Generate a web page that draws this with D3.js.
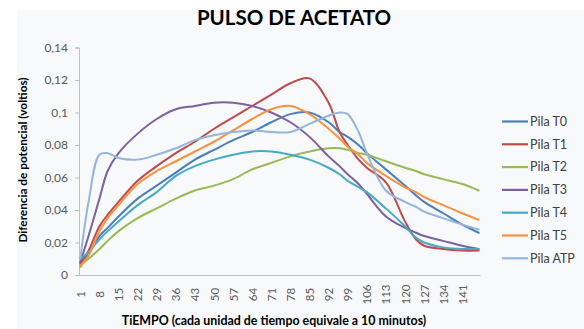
<!DOCTYPE html>
<html><head><meta charset="utf-8">
<script src="https://cdn.jsdelivr.net/npm/d3@7"></script>
<style>html,body{margin:0;padding:0;background:#ffffff;}svg{display:block;}</style>
</head><body>
<svg id="c" width="584" height="329"></svg>
<script>
const time = [1,4,8,11,15,22,29,36,43,50,57,64,71,78,85,92,96,99,103,106,113,120,124,127,134,141,147];
const seriesNames = ["Pila T0","Pila T1","Pila T2","Pila T3","Pila T4","Pila T5","Pila ATP"];
const pilaT0 = [0.008,0.013,0.024,0.029,0.036,0.047,0.055,0.063,0.071,0.077,0.083,0.088,0.094,0.099,0.100,0.094,0.088,0.085,0.080,0.075,0.065,0.055,0.049,0.045,0.038,0.031,0.026];
const pilaT1 = [0.007,0.015,0.030,0.037,0.045,0.058,0.067,0.075,0.082,0.090,0.097,0.104,0.111,0.118,0.121,0.106,0.088,0.080,0.071,0.066,0.057,0.033,0.022,0.018,0.016,0.015,0.015];
const pilaT2 = [0.006,0.010,0.016,0.021,0.027,0.035,0.041,0.047,0.052,0.055,0.059,0.065,0.069,0.073,0.076,0.078,0.078,0.077,0.075,0.074,0.070,0.066,0.064,0.062,0.059,0.056,0.052];
const pilaT3 = [0.008,0.024,0.047,0.064,0.075,0.087,0.096,0.102,0.104,0.106,0.106,0.104,0.100,0.094,0.085,0.073,0.067,0.062,0.056,0.050,0.036,0.029,0.026,0.024,0.021,0.018,0.016];
const pilaT4 = [0.010,0.014,0.022,0.027,0.033,0.043,0.051,0.061,0.067,0.071,0.074,0.076,0.076,0.074,0.071,0.066,0.062,0.058,0.054,0.051,0.041,0.030,0.023,0.020,0.017,0.016,0.016];
const pilaT5 = [0.005,0.012,0.027,0.035,0.043,0.056,0.064,0.070,0.076,0.082,0.089,0.096,0.102,0.104,0.099,0.090,0.084,0.079,0.074,0.069,0.061,0.054,0.051,0.048,0.043,0.038,0.034];
const pilaATP = [0.010,0.045,0.074,0.075,0.072,0.071,0.074,0.078,0.083,0.086,0.088,0.089,0.088,0.088,0.093,0.098,0.100,0.099,0.088,0.075,0.052,0.045,0.042,0.039,0.035,0.031,0.028];
const colors = ["#4a7ebb","#be4b48","#98b954","#7d60a0","#46aac5","#f69240","#93b5de"];
const xTicks = [1,8,15,22,29,36,43,50,57,64,71,78,85,92,99,106,113,120,127,134,141];
const yTicks = [0,0.02,0.04,0.06,0.08,0.1,0.12,0.14];
const yTickLabels = ["0","0,02","0,04","0,06","0,08","0,1","0,12","0,14"];
const nCategories = 147;

const allSeries = [pilaT0,pilaT1,pilaT2,pilaT3,pilaT4,pilaT5,pilaATP];
const font = "Lato, 'Open Sans', sans-serif";
const svg = d3.select("#c");
svg.append("rect").attr("x",0).attr("y",0).attr("width",584).attr("height",329).attr("fill","#ffffff");
svg.append("rect").attr("x",17).attr("y",10).attr("width",567).attr("height",319).attr("fill","#f8f9fb");

const x = d3.scaleLinear().domain([0.5, nCategories+0.5]).range([79,480]);
const y = d3.scaleLinear().domain([0,0.14]).range([275,47.5]);

// y axis
const yAxis = d3.axisLeft(y).tickValues(yTicks).tickFormat((d,i)=>yTickLabels[i]).tickSize(4).tickPadding(7);
const gy = svg.append("g").attr("transform","translate(79,0)").call(yAxis);
gy.select(".domain").attr("stroke","#bfbfbf");
gy.selectAll(".tick line").attr("stroke","#bfbfbf");
gy.selectAll("text").attr("font-family",font).attr("font-size",12).attr("fill","#595959");

// x axis
const xAxis = d3.axisBottom(x).tickValues(xTicks).tickSize(0).tickFormat(d=>d);
const gx = svg.append("g").attr("transform","translate(0,275)").call(xAxis);
gx.select(".domain").attr("stroke","#bfbfbf");
gx.selectAll("text").attr("font-family",font).attr("font-size",11.5).attr("fill","#595959")
  .attr("transform","translate(0,19.5) rotate(-90)").attr("text-anchor","middle").attr("dy","0.35em").attr("y",0).attr("x",0);

// lines
const line = d3.line().x((d,i)=>x(time[i])).y(d=>y(d)).curve(d3.curveCatmullRom.alpha(0.5));
allSeries.forEach((s,k)=>{
  svg.append("path").datum(s).attr("d",line).attr("fill","none").attr("stroke",colors[k]).attr("stroke-width",2).attr("stroke-linejoin","round").attr("stroke-linecap","round");
});

// legend
const lg = svg.append("g");
seriesNames.forEach((n,k)=>{
  const yy = 121.5 + k*22.8;
  lg.append("line").attr("x1",502).attr("x2",528).attr("y1",yy).attr("y2",yy).attr("stroke",colors[k]).attr("stroke-width",2.2);
  lg.append("text").attr("x",530).attr("y",yy).attr("dy","0.35em").attr("font-family",font).attr("font-size",12.5).attr("fill","#404040").text(n);
});

// titles
svg.append("text").attr("x",294).attr("y",25).attr("text-anchor","middle").attr("font-family",font).attr("font-weight","bold").attr("font-size",20.5).attr("fill","#000").text("PULSO DE ACETATO");
svg.append("text").attr("transform","translate(27,160) rotate(-90)").attr("text-anchor","middle").attr("font-family",font).attr("font-weight","bold").attr("font-size",11.8).attr("fill","#000").text("Diferencia de potencial (voltios)");
svg.append("text").attr("x",274).attr("y",325).attr("text-anchor","middle").attr("font-family",font).attr("font-weight","bold").attr("font-size",12.4).attr("fill","#000").text("TiEMPO (cada unidad de tiempo equivale a 10 minutos)");
</script>
</body></html>
